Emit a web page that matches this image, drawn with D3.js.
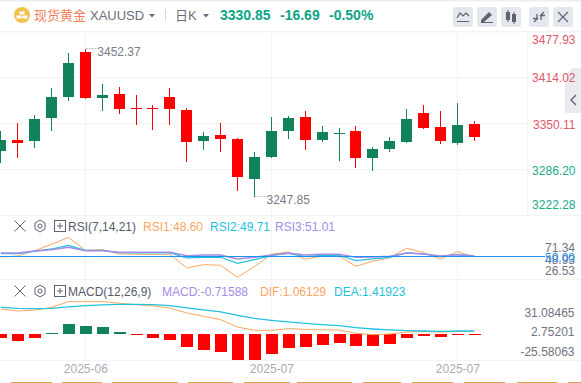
<!DOCTYPE html>
<html>
<head>
<meta charset="utf-8">
<script src="https://cdnjs.cloudflare.com/ajax/libs/d3/7.8.5/d3.min.js"></script>
<style>
html, body { margin: 0; padding: 0; background: #fff; overflow: hidden; }
text { font-family: "Liberation Sans", "Noto Sans CJK SC", sans-serif; font-size: 12px; }
</style>
</head>
<body>
<div id="chart"></div>
<script>
const opens  = [3326.1,3322.0,3355.1,3385.4,3432.4,3384.1,3388.2,3368.9,3368.9,3368.9,3368.9,3323.3,3331.6,3327.5,3275.0,3302.6,3338.5,3356.5,3326.1,3337.1,3335.8,3301.3,3313.7,3324.7,3355.1,3342.7,3324.7,3346.8,3330.2];
const closes = [3310.9,3326.1,3324.7,3356.9,3385.4,3447.5,3384.1,3389.6,3370.3,3370.3,3385.4,3367.5,3324.7,3333.0,3327.5,3272.3,3302.6,3338.5,3357.9,3326.1,3334.4,3338.5,3301.3,3313.7,3323.3,3363.4,3344.0,3322.0,3348.2];
const highs  = [3338.5,3349.6,3360.6,3397.9,3446.2,3452.37,3403.4,3399.2,3388.2,3374.4,3397.9,3370.3,3337.1,3349.6,3328.9,3309.5,3357.9,3359.2,3366.1,3345.4,3342.7,3345.4,3316.4,3330.2,3368.9,3374.4,3366.1,3377.2,3352.3];
const lows   = [3294.8,3301.3,3315.1,3338.5,3379.9,3382.7,3366.1,3362.0,3346.8,3339.9,3346.8,3295.7,3312.3,3309.5,3255.7,3247.85,3301.3,3327.5,3312.3,3323.3,3297.1,3287.5,3283.3,3309.5,3322.0,3341.3,3320.6,3319.2,3324.7];

const rsi1 = [48.67,50.67,61.33,74,88,62,63.33,54.67,54,54,54,26.67,33.33,32,8,29.33,54,58.67,44,50.67,50.67,30,40,47.33,66,57.33,44.67,59.33,48.60];
const rsi2 = [55.33,55.33,60,64.67,72,62,62,57.33,56.67,56.67,56.67,46.67,48,48,36,43.33,51.33,56,49.33,52,52,41.33,44.67,48,56.67,54.67,49.33,54,49.71];
const rsi3 = [56.67,56.67,60.67,63.33,68,61.33,61.33,58,58,58,58,51.33,52.67,52.67,44.67,48,52.67,56.67,52.67,54,54,48,48.67,50,56.67,54.67,50.67,53.33,51.01];

const macdBars = [-5.7,-10,-5.7,1.4,14.3,11.4,10,2.9,-1.4,-5.7,-8.6,-18.6,-22.9,-25.7,-37.1,-37.1,-28.6,-20,-18.6,-15.7,-12.9,-17.1,-17.1,-14.3,-5.7,-2.9,-4.3,-1,-0.72];
const dif = [32.4,30,31,35.2,43.3,43.3,43.3,41,39,37.1,34.3,27.1,22.4,17.6,7.1,2.4,2.4,4.8,3.8,2.9,2.9,-1.9,-3.8,-2.9,0,0.5,0,0.5,1.06];
const dea = [35.2,33.8,33.3,33.8,35.7,37.6,38.6,39.5,39.5,39,37.6,34.3,31.4,28.6,23.8,19.5,16.7,14.3,12.4,10.5,9,6.2,4.3,2.9,1.9,1.4,1,1.4,1.42];

const priceTicks = [3477.93,3414.02,3350.11,3286.20,3222.28];
const rsiTicks = [71.34,48.93,26.53];
const macdTicks = [31.08465,2.75201,-25.58063];
const dateTicks = [5,16,27];
const dateLabels = ['2025-06','2025-07','2025-07'];

const upColor = '#ff0000', downColor = '#11825a';
const gridColor = '#f2f3f7';
const orange = '#f8a660', cyan = '#22c2dd', purple = '#a48be6';
const labelGray = '#6f7280';

const width = 581, height = 383;
const svg = d3.select('#chart').append('svg')
	.attr('width', width)
	.attr('height', height)
	.style('display', 'block');

const x = d3.scaleLinear().domain([0, 28]).range([0.8, 474.3]);
const yPrice = d3.scaleLinear().domain([3247.85, 3452.37]).range([196.7, 48.5]);
const yRsi = d3.scaleLinear().domain([0, 100]).range([281.3, 231.3]);
const yBar = d3.scaleLinear().domain([0, -37.1]).range([334, 360]);
const yMacd = d3.scaleLinear().domain([0, 31.08465]).range([332, 310.2]);

const crisp = v => Math.floor(v) + 0.5;
const idx = d3.range(opens.length);

// frame + header line
svg.append('rect').attr('width', width).attr('height', 1.5).attr('fill', '#eceef5');
svg.append('rect').attr('y', 31).attr('width', width).attr('height', 1.5).attr('fill', gridColor);

// grid
const grid = svg.append('g').attr('stroke', gridColor).attr('shape-rendering', 'crispEdges');
grid.selectAll('.v').data(dateTicks).enter().append('line')
	.attr('x1', d => crisp(x(d))).attr('x2', d => crisp(x(d)))
	.attr('y1', 32).attr('y2', 360);
grid.selectAll('.h').data(priceTicks.slice(1, 4)).enter().append('line')
	.attr('x1', 0).attr('x2', 527)
	.attr('y1', d => crisp(yPrice(d)) + 0.5).attr('y2', d => crisp(yPrice(d)) + 0.5);
[215.5, 279.5, 360.5].forEach(y => {
	grid.append('line').attr('x1', 0).attr('x2', width).attr('y1', y).attr('y2', y);
});
grid.append('line').attr('x1', 527.5).attr('x2', 527.5).attr('y1', 32).attr('y2', 215);

// candles
const candles = svg.append('g').attr('shape-rendering', 'crispEdges');
const candleColor = i => closes[i] >= opens[i] ? upColor : downColor;
candles.selectAll('.wick').data(idx).enter().append('line')
	.attr('x1', i => crisp(x(i))).attr('x2', i => crisp(x(i)))
	.attr('y1', i => yPrice(highs[i])).attr('y2', i => yPrice(lows[i]))
	.attr('stroke', candleColor);
candles.selectAll('.body').data(idx).enter().append('rect')
	.attr('x', i => crisp(x(i)) - 5.5)
	.attr('width', 11)
	.attr('y', i => yPrice(Math.max(opens[i], closes[i])))
	.attr('height', i => Math.max(1, Math.abs(yPrice(opens[i]) - yPrice(closes[i]))))
	.attr('fill', candleColor);

// high / low callouts
const hiIdx = highs.indexOf(d3.max(highs)), loIdx = lows.indexOf(d3.min(lows));
[[hiIdx, highs[hiIdx], 3], [loIdx, lows[loIdx], 3]].forEach(([i, v, dy]) => {
	const cx = x(i), cy = yPrice(v);
	svg.append('line')
		.attr('x1', cx + 1).attr('x2', cx + 11)
		.attr('y1', crisp(cy)).attr('y2', crisp(cy))
		.attr('stroke', '#8b8c96').attr('stroke-dasharray', '1,2');
	svg.append('text')
		.attr('x', cx + 12).attr('y', cy + dy + 4)
		.attr('fill', '#7a7b86')
		.text(v.toFixed(2));
});

// collapse tab, sits under the price labels
svg.append('path').attr('d', 'M581,68 L572,68 L565,76 L565,113 L581,113 Z').attr('fill', '#ebeaf0');
svg.append('path').attr('d', 'M576,95 L571,100 L576,105').attr('fill', 'none').attr('stroke', '#5f6270').attr('stroke-width', 1.4);

// price labels, clamped to the pane the way the chart does
svg.selectAll('.price').data(priceTicks).enter().append('text')
	.attr('x', 575.5).attr('text-anchor', 'end')
	.attr('y', d => Math.max(40, Math.min(205, yPrice(d) + 1.6)) + 4.3)
	.attr('fill', d => d >= 3350 ? '#e2566b' : '#17a98b')
	.text(d => d.toFixed(2));

// RSI
const lineOf = (y, vals) => d3.line().x(i => x(i)).y(i => y(vals[i]))(idx);
[[rsi1, orange, 1], [rsi2, cyan, 1.2], [rsi3, purple, 1.5]].forEach(([vals, color, w]) => {
	svg.append('path').attr('d', lineOf(yRsi, vals))
		.attr('fill', 'none').attr('stroke', color).attr('stroke-width', w);
});
svg.append('line')
	.attr('x1', 0).attr('x2', 545)
	.attr('y1', crisp(yRsi(50))).attr('y2', crisp(yRsi(50)))
	.attr('stroke', '#1e90f0');
svg.selectAll('.rsiTick').data(rsiTicks).enter().append('text')
	.attr('x', 575).attr('text-anchor', 'end')
	.attr('y', d => yRsi(d) + 2.4 + 4.3)
	.attr('fill', labelGray)
	.text(d => d.toFixed(2));
svg.append('text')
	.attr('x', 575).attr('text-anchor', 'end')
	.attr('y', yRsi(50) + 1 + 4.3)
	.attr('fill', '#1e90f0')
	.text('50.00');

// MACD
svg.append('g').attr('shape-rendering', 'crispEdges')
	.selectAll('rect').data(idx).enter().append('rect')
	.attr('x', i => crisp(x(i)) - 6)
	.attr('width', 12)
	.attr('y', i => Math.min(yBar(0), yBar(macdBars[i])))
	.attr('height', i => Math.max(1, Math.abs(yBar(macdBars[i]) - yBar(0))))
	.attr('fill', i => macdBars[i] >= 0 ? downColor : upColor);
[[dif, orange, 1], [dea, cyan, 1.3]].forEach(([vals, color, w]) => {
	svg.append('path').attr('d', lineOf(yMacd, vals))
		.attr('fill', 'none').attr('stroke', color).attr('stroke-width', w);
});
svg.selectAll('.macdTick').data(macdTicks).enter().append('text')
	.attr('x', 574.5).attr('text-anchor', 'end')
	.attr('y', d => yBar(0) - d * 0.7 + 4.3)
	.attr('fill', labelGray)
	.text(d => d.toFixed(5));

// date axis
const xAxis = svg.append('g')
	.attr('transform', 'translate(0,360)')
	.call(d3.axisBottom(x).tickValues(dateTicks).tickSize(0).tickPadding(4)
		.tickFormat((d, i) => dateLabels[i]));
xAxis.select('.domain').remove();
xAxis.selectAll('text')
	.attr('fill', '#a9aab8')
	.style('font-size', '12px')
	.style('font-family', '"Liberation Sans", sans-serif');

// cut off tabs at the very bottom
[[11,52],[62,102],[112,178],[188,233],[244,290],[297,352],[363,401],[412,453],[464,505],[517,557],[568,581]].forEach(s => {
	svg.append('rect').attr('x', s[0]).attr('y', 382).attr('width', s[1] - s[0]).attr('height', 1).attr('fill', '#d9a441');
});

// header
const head = svg.append('g');
head.append('circle').attr('cx', 22).attr('cy', 15).attr('r', 8).attr('fill', '#f0c14f');
[[19.5,11.5],[16.5,15.5],[22.5,15.5]].forEach(b => {
	head.append('rect').attr('x', b[0]).attr('y', b[1]).attr('width', 5).attr('height', 3).attr('fill', '#fff');
});
head.append('text').attr('x', 34).attr('y', 19.5).attr('fill', '#f0805a').style('font-size', '13px').text('现货黄金');
head.append('text').attr('x', 90).attr('y', 20).attr('fill', '#6b6e7a').style('font-size', '13px').text('XAUUSD');
head.append('path').attr('d', 'M149,14 L155,14 L152,17.5 Z').attr('fill', '#6b6e7a');
head.append('line').attr('x1', 165.5).attr('x2', 165.5).attr('y1', 9).attr('y2', 21).attr('stroke', '#d4d6de');
head.append('text').attr('x', 175).attr('y', 19.5).attr('fill', '#6b6e7a').style('font-size', '13px').text('日K');
head.append('path').attr('d', 'M203,14 L209,14 L206,17.5 Z').attr('fill', '#6b6e7a');
[['3330.85', 220], ['-16.69', 280], ['-0.50%', 329]].forEach(t => {
	head.append('text').attr('x', t[1]).attr('y', 19.5)
		.attr('fill', '#0ca585').style('font-size', '14px').style('font-weight', 'bold').text(t[0]);
});

// toolbar buttons
const btnX = [453, 477, 501, 529, 553];
btnX.forEach(bx => {
	head.append('rect').attr('x', bx).attr('y', 7).attr('width', 20).attr('height', 20).attr('rx', 3).attr('fill', '#e5e7ef');
});
const icon = '#5f6270';
head.append('path').attr('d', 'M457,18 L460,13 L463,16 L466,13 L469,16').attr('fill', 'none').attr('stroke', icon).attr('stroke-width', 1.2);
head.append('line').attr('x1', 457).attr('x2', 469).attr('y1', 21.5).attr('y2', 21.5).attr('stroke', icon);
head.append('path').attr('d', 'M481,20 L489,12 L492,15 L484,22 L481,22 Z').attr('fill', icon);
head.append('line').attr('x1', 481).attr('x2', 493).attr('y1', 22.5).attr('y2', 22.5).attr('stroke', icon);
head.append('rect').attr('x', 506).attr('y', 12).attr('width', 4).attr('height', 8).attr('fill', icon);
head.append('rect').attr('x', 512).attr('y', 14).attr('width', 4).attr('height', 8).attr('fill', icon);
head.append('line').attr('x1', 508).attr('x2', 508).attr('y1', 10).attr('y2', 22).attr('stroke', icon);
head.append('line').attr('x1', 514).attr('x2', 514).attr('y1', 12).attr('y2', 24).attr('stroke', icon);
head.append('path').attr('d', 'M534,22 L538,18 M537,14 V18.5 H533 M544,12 L540,16 M541,20 V15.5 H545').attr('fill', 'none').attr('stroke', icon).attr('stroke-width', 1.3);
head.append('path').attr('d', 'M558,12 L568,22 M568,12 L558,22').attr('fill', 'none').attr('stroke', icon).attr('stroke-width', 1.1);

// indicator title rows
function indicatorRow(y, labels) {
	const g = svg.append('g');
	g.append('path').attr('d', `M14.5,${y - 5.5} L25.5,${y + 5.5} M25.5,${y - 5.5} L14.5,${y + 5.5}`)
		.attr('fill', 'none').attr('stroke', '#5f6270');
	g.append('path').attr('d', `M40,${y - 6} L45,${y - 3} V${y + 3} L40,${y + 6} L35,${y + 3} V${y - 3} Z`)
		.attr('fill', 'none').attr('stroke', '#5f6270');
	g.append('circle').attr('cx', 40).attr('cy', y).attr('r', 2).attr('fill', 'none').attr('stroke', '#5f6270');
	g.append('rect').attr('x', 54.5).attr('y', y - 5.5).attr('width', 11).attr('height', 11)
		.attr('fill', 'none').attr('stroke', '#5f6270').attr('shape-rendering', 'crispEdges');
	g.append('path').attr('d', `M57,${y} H63 M60,${y - 3} V${y + 3}`).attr('stroke', '#5f6270');
	labels.forEach(l => {
		g.append('text').attr('x', l[1]).attr('y', y + 4.5).attr('fill', l[2]).text(l[0]);
	});
}
indicatorRow(226, [
	['RSI(7,14,21)', 68, '#555b6b'],
	['RSI1:' + rsi1[28].toFixed(2), 143, orange],
	['RSI2:' + rsi2[28].toFixed(2), 210, cyan],
	['RSI3:' + rsi3[28].toFixed(2), 275, purple]
]);
indicatorRow(291, [
	['MACD(12,26,9)', 68, '#555b6b'],
	['MACD:-0.71588', 162, purple],
	['DIF:1.06129', 260, orange],
	['DEA:1.41923', 334, cyan]
]);
</script>
</body>
</html>
